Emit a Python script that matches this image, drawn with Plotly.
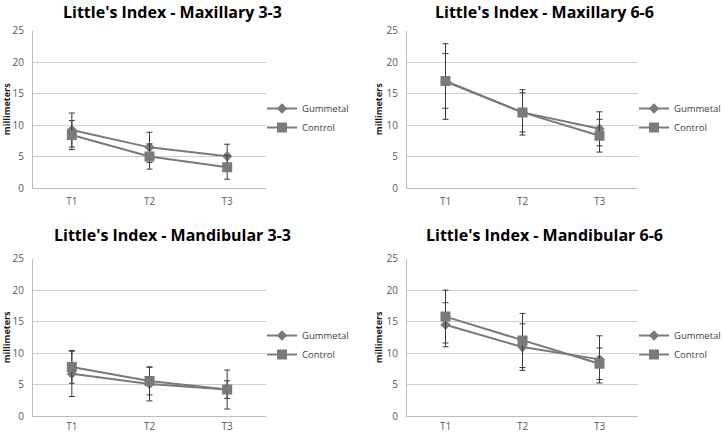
import plotly.graph_objects as go

categories = ["T1", "T2", "T3"]
series_names = ["Gummetal", "Control"]

titles = [
    "Little's Index - Maxillary 3-3",
    "Little's Index - Maxillary 6-6",
    "Little's Index - Mandibular 3-3",
    "Little's Index - Mandibular 6-6",
]

# Maxillary 3-3
max33_gummetal = [9.2, 6.45, 5.05]
max33_gummetal_err = [2.7, 2.4, 1.9]
max33_control = [8.4, 5.0, 3.3]
max33_control_err = [2.3, 2.0, 1.9]

# Maxillary 6-6
max66_gummetal = [16.9, 12.0, 9.4]
max66_gummetal_err = [6.0, 3.6, 2.7]
max66_control = [17.0, 12.0, 8.3]
max66_control_err = [4.35, 3.1, 2.6]

# Mandibular 3-3
man33_gummetal = [6.7, 5.1, 4.2]
man33_gummetal_err = [3.6, 2.7, 1.4]
man33_control = [7.8, 5.55, 4.2]
man33_control_err = [2.6, 2.2, 3.1]

# Mandibular 6-6
man66_gummetal = [14.5, 10.95, 9.0]
man66_gummetal_err = [3.5, 3.7, 3.75]
man66_control = [15.8, 12.0, 8.3]
man66_control_err = [4.2, 4.3, 2.5]

y_ticks = [0, 5, 10, 15, 20, 25]
y_title = "millimeters"

panels = [
    (max33_gummetal, max33_gummetal_err, max33_control, max33_control_err),
    (max66_gummetal, max66_gummetal_err, max66_control, max66_control_err),
    (man33_gummetal, man33_gummetal_err, man33_control, man33_control_err),
    (man66_gummetal, man66_gummetal_err, man66_control, man66_control_err),
]

W, H = 722, 433
FONT = "Open Sans"
LINE_COL = "#7a7a7a"
ERR_COL = "#3a3a3a"

# pixel geometry of each panel: (left, right, top, bottom)
geom = [
    (33, 266, 30.5, 188),
    (407, 638, 30.5, 188),
    (33, 266, 258.7, 416),
    (407, 638, 258.7, 416),
]
xlabel_standoff = [4, 4, 1, 1]
title_pos = [(172, 11.5), (544, 11.5), (172, 235), (544, 235)]
legend_pos = [(262, 94), (634, 94), (262, 321), (634, 321)]

fig = go.Figure()
layout = dict(
    width=W, height=H,
    margin=dict(l=0, r=0, t=0, b=0, autoexpand=False),
    paper_bgcolor="white", plot_bgcolor="white",
    font=dict(family=FONT, size=10, color="#595959"),
    annotations=[],
)

for i, (g, ge, c, ce) in enumerate(panels):
    n = "" if i == 0 else str(i + 1)
    leg = "legend" if i == 0 else "legend%d" % (i + 1)
    xa = "x" + n
    ya = "y" + n
    fig.add_trace(go.Scatter(
        x=categories, y=g, name=series_names[0], xaxis=xa, yaxis=ya, legend=leg,
        mode="lines+markers",
        line=dict(color=LINE_COL, width=2),
        marker=dict(symbol="diamond", size=8, color=LINE_COL),
        error_y=dict(type="data", array=ge, visible=True, color=ERR_COL, thickness=1, width=3),
    ))
    fig.add_trace(go.Scatter(
        x=categories, y=c, name=series_names[1], xaxis=xa, yaxis=ya, legend=leg,
        mode="lines+markers",
        line=dict(color=LINE_COL, width=2),
        marker=dict(symbol="square", size=10, color=LINE_COL),
        error_y=dict(type="data", array=ce, visible=True, color=ERR_COL, thickness=1, width=3),
    ))
    l, r, t, b = geom[i]
    layout["xaxis" + n] = dict(
        domain=[l / W, r / W], anchor=ya, type="category", automargin=False,
        range=[-0.5, 2.5], showgrid=False, zeroline=False,
        showline=True, linecolor="#bdbdbd", linewidth=1,
        ticks="", ticklabelstandoff=xlabel_standoff[i],
        tickfont=dict(family=FONT, size=10, color="#595959"),
    )
    layout["yaxis" + n] = dict(
        domain=[1 - b / H, 1 - t / H], anchor=xa, automargin=False,
        range=[0, 25], tickvals=y_ticks, showgrid=True, gridcolor="#d0d0d0",
        zeroline=False, showline=True, linecolor="#bdbdbd", linewidth=1,
        ticks="outside", ticklen=6, tickcolor="rgba(0,0,0,0)",
        tickfont=dict(family=FONT, size=10, color="#595959"),
        title=dict(text=y_title, standoff=2,
                   font=dict(family=FONT, size=9, color="#1a1a1a", weight="bold")),
    )
    lx, ly = legend_pos[i]
    layout[leg] = dict(
        x=lx / W, y=1 - ly / H, xanchor="left", yanchor="top",
        bgcolor="rgba(0,0,0,0)", borderwidth=0, itemwidth=30, tracegroupgap=0,
        font=dict(family=FONT, size=9.5, color="#404040"),
    )
    tx, ty = title_pos[i]
    layout["annotations"].append(dict(
        text="<b>%s</b>" % titles[i], x=tx / W, y=1 - ty / H,
        xref="paper", yref="paper", xanchor="center", yanchor="middle",
        showarrow=False, font=dict(family=FONT, size=16, color="#000000"),
    ))

fig.update_layout(**layout)
fig.write_html(
    "out.html",
    config={"displayModeBar": False},
    post_script="document.body.style.margin='0px';document.body.style.overflow='hidden';",
)
